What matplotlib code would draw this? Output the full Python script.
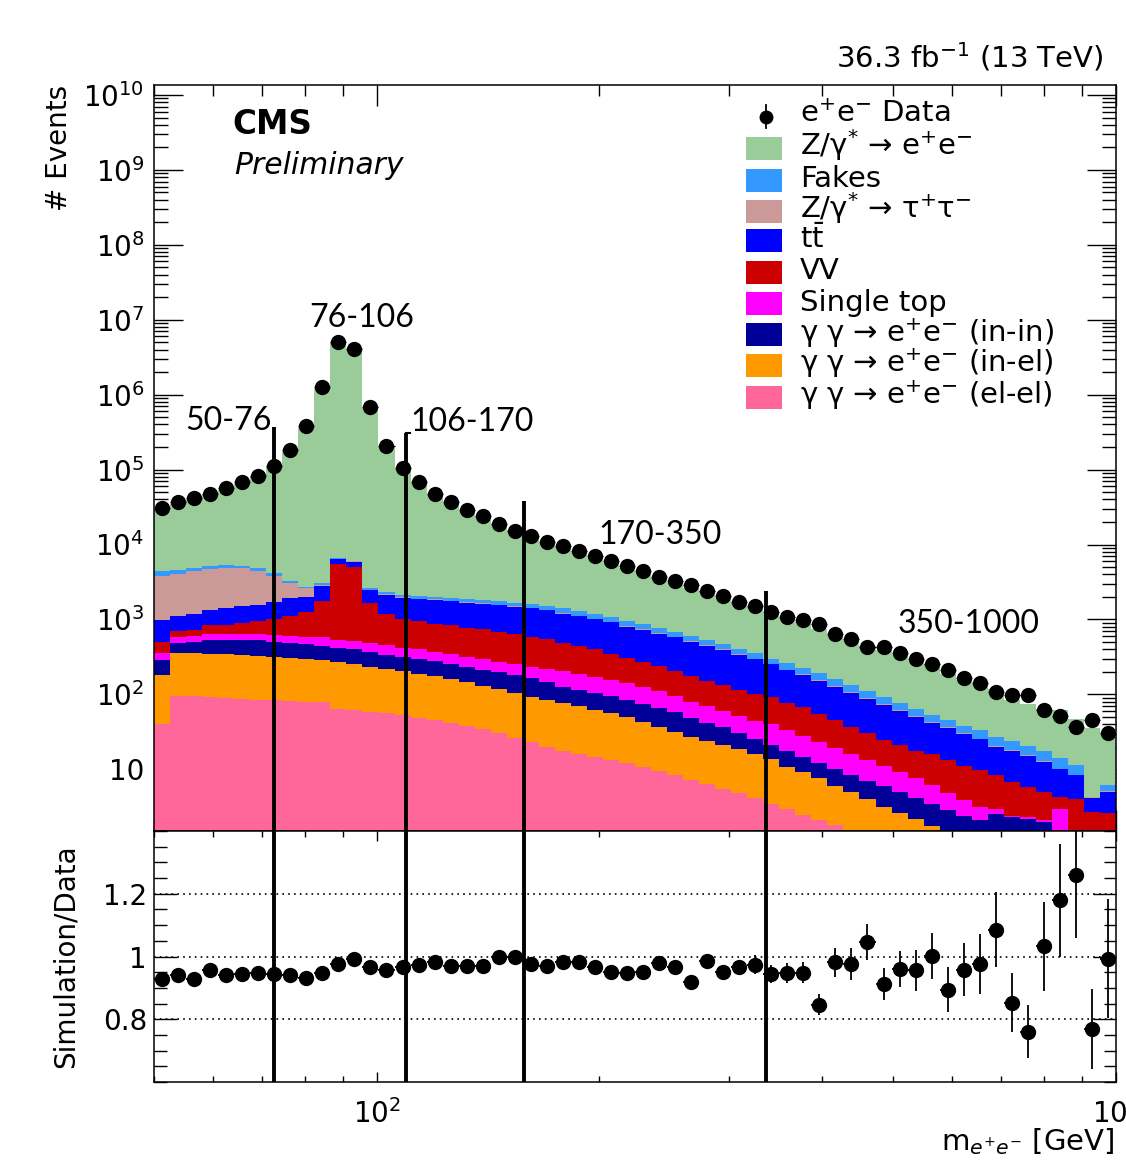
import numpy as np
import matplotlib
matplotlib.use("Agg")
import matplotlib.pyplot as plt
from matplotlib.ticker import LogLocator, FuncFormatter, MultipleLocator, FixedLocator, NullFormatter
from matplotlib.patches import Rectangle
from matplotlib.lines import Line2D

plt.rcParams['font.family'] = ['DejaVu Sans']
plt.rcParams['mathtext.fontset'] = 'dejavusans'

# ---------------- data ----------------
mass_low, mass_high, n_bins = 50, 1000, 60

data = [30700, 36600, 41800, 47800, 56900, 67800, 83200, 113000, 185000, 385000,
        1250000, 5060000, 4120000, 684000, 207000, 105000, 67800, 47800, 36900, 29200,
        23800, 19000, 15300, 13100, 10900, 9420, 8070, 6930, 5940, 5090,
        4370, 3630, 3210, 2840, 2400, 2060, 1730, 1490, 1270, 1090,
        984, 871, 632, 542, 424, 424, 352, 293, 251, 211,
        163, 140, 108, 98, 98, 61.5, 51.6, 36.8, 46.1, 30.9]

ratio = [0.929, 0.942, 0.928, 0.958, 0.942, 0.945, 0.947, 0.945, 0.942, 0.931,
         0.949, 0.977, 0.992, 0.968, 0.958, 0.965, 0.974, 0.984, 0.971, 0.971,
         0.971, 0.998, 0.997, 0.977, 0.971, 0.981, 0.984, 0.968, 0.951, 0.946,
         0.951, 0.980, 0.966, 0.920, 0.986, 0.952, 0.968, 0.974, 0.944, 0.947,
         0.949, 0.847, 0.982, 0.976, 1.046, 0.912, 0.961, 0.956, 1.002, 0.894,
         0.958, 0.977, 1.085, 0.852, 0.760, 1.032, 1.180, 1.259, 0.770, 0.993]

ratio_err = [0.008] * 25 + [0.010] * 5 + [0.012] * 3 + \
            [0.018, 0.018, 0.020, 0.020, 0.030, 0.030, 0.033, 0.035, 0.035, 0.046,
             0.050, 0.058, 0.050, 0.058, 0.065, 0.073, 0.071, 0.085, 0.095, 0.119,
             0.094, 0.085, 0.143, 0.180, 0.200, 0.127, 0.190]

# cumulative stack tops, bottom layer first
stack_elel = [40.7, 95.5, 95.5, 93.3, 89.1, 87.1, 85.1, 83.2, 81.3, 79.4,
              79.4, 63.1, 61.7, 57.5, 56.2, 52.5, 49.0, 45.7, 41.7, 38.0,
              34.7, 30.2, 26.3, 22.9, 20.0, 17.4, 15.8, 14.5, 13.2, 12.0,
              10.7, 9.55, 8.32, 7.24, 6.31, 5.50, 4.79, 4.17, 3.47, 2.95,
              2.45, 2.09, 1.78, 1.45, 1.20, 1.00, 0.79, 0.63, 0.50, 0.40,
              0.32, 0.25, 0.20, 0.16, 0.13, 0.10, 0.08, 0.06, 0.05, 0.04]
stack_inel = [182, 355, 355, 347, 347, 339, 324, 316, 302, 295,
              288, 269, 257, 234, 219, 204, 186, 174, 158, 145,
              129, 117, 105, 93.3, 83.2, 75.9, 69.2, 61.7, 56.2, 50.1,
              42.7, 37.2, 31.6, 26.9, 24.0, 20.9, 18.6, 16.2, 13.8, 10.7,
              9.12, 7.59, 6.03, 4.90, 3.98, 3.16, 2.63, 2.14, 1.74, 1.45,
              1.20, 1.00, 0.79, 0.63, 0.50, 0.40, 0.32, 0.25, 0.20, 0.16]
stack_inin = [288, 479, 501, 537, 537, 537, 525, 501, 490, 468,
              447, 417, 398, 372, 339, 316, 295, 275, 251, 234,
              214, 200, 182, 166, 148, 126, 115, 105, 95.5, 83.2,
              74.1, 66.1, 57.5, 47.9, 41.7, 36.3, 30.2, 25.1, 21.4, 17.8,
              14.8, 12.3, 10.2, 8.51, 7.08, 5.89, 5.01, 4.17, 3.47, 2.88,
              2.40, 2.09, 2.51, 2.29, 2.14, 2.00, 1.00, 0.80, 0.80, 0.60]
stack_stop = [355, 589, 603, 631, 631, 631, 631, 617, 603, 589,
              575, 537, 513, 479, 457, 417, 398, 363, 347, 316,
              295, 269, 251, 234, 219, 204, 186, 170, 155, 141,
              126, 112, 95.5, 79.4, 69.2, 60.3, 51.3, 44.7, 39.8, 33.9,
              28.2, 22.9, 19.5, 16.2, 13.2, 11.0, 9.12, 7.59, 6.17, 4.79,
              3.89, 3.16, 2.95, 2.40, 2.29, 2.09, 2.95, 1.00, 0.80, 0.65]
stack_vv = [501, 692, 724, 832, 851, 891, 955, 1000, 1100, 1260,
            1780, 5500, 5010, 1660, 1200, 1000, 955, 871, 832, 776,
            741, 676, 631, 589, 550, 490, 447, 398, 347, 302,
            269, 240, 204, 174, 151, 132, 115, 102, 93.3, 75.9,
            67.6, 55.0, 45.7, 37.2, 30.2, 24.5, 20.9, 17.8, 16.2, 13.2,
            11.2, 9.77, 8.32, 6.76, 5.75, 5.01, 4.27, 3.98, 2.69, 2.57]
stack_tt = [977, 1100, 1200, 1350, 1410, 1510, 1580, 1700, 1910, 2000,
            2820, 6460, 5890, 2450, 2140, 1950, 1860, 1820, 1740, 1660,
            1620, 1550, 1480, 1410, 1320, 1200, 1100, 1000, 912, 794,
            724, 646, 575, 501, 447, 389, 339, 295, 251, 209,
            182, 151, 126, 105, 87.1, 72.4, 60.3, 50.1, 41.7, 35.5,
            29.5, 25.1, 20.0, 17.8, 15.1, 12.6, 10.0, 8.32, 4.17, 5.01]
stack_tautau = [3800, 4070, 4370, 4680, 4900, 4790, 4470, 3800, 3090, 2630,
                2900, 6500, 5950, 2500, 2180, 1990, 1900, 1850, 1770, 1690,
                1650, 1580, 1510, 1440, 1350, 1220, 1120, 1020, 930, 810,
                738, 659, 586, 511, 456, 397, 346, 301, 256, 213,
                186, 154, 128, 107, 88.8, 73.8, 61.5, 51.1, 42.5, 36.2,
                30.1, 25.6, 20.4, 18.2, 15.4, 12.9, 10.2, 8.5, 4.25, 5.1]
stack_fakes = [4370, 4570, 4900, 5130, 5250, 5130, 4790, 4170, 3240, 2750,
               3050, 6650, 6100, 2650, 2330, 2150, 2060, 2010, 1930, 1850,
               1810, 1740, 1670, 1600, 1510, 1400, 1290, 1180, 1080, 940,
               860, 770, 690, 600, 535, 466, 405, 352, 300, 260,
               228, 190, 158, 132, 110, 91, 76, 63, 53, 45,
               38, 33, 27, 24, 20.5, 17.5, 14.0, 11.5, 4.3, 6.2]

labels = ['e$^{+}$e$^{-}$ Data', 'Z/γ$^{*}$ → e$^{+}$e$^{-}$', 'Fakes',
          'Z/γ$^{*}$ → τ$^{+}$τ$^{-}$', r't$\bar{\mathrm{t}}$', 'VV', 'Single top',
          'γ γ → e$^{+}$e$^{-}$ (in-in)', 'γ γ → e$^{+}$e$^{-}$ (in-el)',
          'γ γ → e$^{+}$e$^{-}$ (el-el)']
colors = ['#99CC99', '#3399FF', '#CC9999', '#0000FF', '#CC0000', '#FF00FF',
          '#000099', '#FF9900', '#FF6699']

region_bounds = [72.7, 109.6, 158.4, 336.7]
region_tops = [3.7e5, 3.1e5, 3.8e4, 2.4e3]
region_labels = ['50-76', '76-106', '106-170', '170-350', '350-1000']
region_label_pos = [(63, 4.5e5), (95.6, 1.06e7), (134.6, 4.3e5), (242, 1.34e4), (632, 858)]

# ---------------- derived ----------------
edges = np.geomspace(mass_low, mass_high, n_bins + 1)
centers = np.sqrt(edges[:-1] * edges[1:])
data = np.array(data, dtype=float)
ratio = np.array(ratio)
ratio_err = np.array(ratio_err)
mc_total = data * ratio
layers = [mc_total, stack_fakes, stack_tautau, stack_tt, stack_vv, stack_stop,
          stack_inin, stack_inel, stack_elel]

W, H = 1126, 1162
fig = plt.figure(figsize=(W / 100, H / 100), dpi=100)
x0, x1 = 154, 1116
ax = fig.add_axes([x0 / W, (H - 831) / H, (x1 - x0) / W, (831 - 85) / H])
rax = fig.add_axes([x0 / W, (H - 1082) / H, (x1 - x0) / W, (1082 - 831) / H], sharex=ax)

for i, (vals, c) in enumerate(zip(layers, colors)):
    ax.stairs(vals, edges, baseline=1e-3, fill=True, color=c, lw=0, zorder=2 + i * 0.01)

xerr = [centers - edges[:-1], edges[1:] - centers]
ax.errorbar(centers, data, xerr=xerr, fmt='o', color='black', ms=10, lw=1.0,
            capsize=0, zorder=10)

ax.set_xscale('log')
ax.set_yscale('log')
ax.set_xlim(mass_low, mass_high)
ax.set_ylim(1.5, 1.36e10)

ax.yaxis.set_major_locator(LogLocator(base=10, numticks=20))
ax.yaxis.set_minor_locator(LogLocator(base=10, subs=np.arange(2, 10), numticks=20))


def yfmt(v, pos):
    e = int(round(np.log10(v)))
    if e == 1:
        return '10'
    return '$10^{%d}$' % e


ax.yaxis.set_major_formatter(FuncFormatter(yfmt))
ax.yaxis.set_minor_formatter(NullFormatter())
ax.tick_params(axis='both', which='both', direction='in', top=True, right=True,
               labelbottom=False, labelsize=20, width=1.0)
ax.tick_params(axis='y', which='major', length=21, pad=7)
ax.tick_params(axis='y', which='minor', length=10)
ax.tick_params(axis='x', which='major', length=15)
ax.tick_params(axis='x', which='minor', length=7.7)
for s in ax.spines.values():
    s.set_linewidth(1.1)

# region lines and labels
for xb, yt in zip(region_bounds, region_tops):
    ax.plot([xb, xb], [1e-3, yt], color='black', lw=2.8, zorder=12, solid_capstyle='butt')
    rax.axvline(xb, color='black', lw=2.8, zorder=12)
ax.plot([region_bounds[1], region_bounds[1] * 1.012], [region_tops[1], region_tops[1]],
        color='black', lw=1.5, zorder=12)
for lab, (xl, yl) in zip(region_labels, region_label_pos):
    ax.text(xl, yl, lab, ha='center', va='center', fontsize=23,
            family=['Lato', 'DejaVu Sans'], zorder=13)

# ratio panel
rax.errorbar(centers, ratio, yerr=ratio_err, xerr=xerr, fmt='o', color='black', ms=10,
             lw=1.3, capsize=0, zorder=10)
for v in (0.8, 1.0, 1.2):
    rax.axhline(v, color='black', lw=1.2, ls=(0, (1, 2.5)), zorder=1)
rax.set_ylim(0.6, 1.4)
rax.set_xlim(mass_low, mass_high)
rax.yaxis.set_major_locator(FixedLocator([0.8, 1.0, 1.2]))
rax.yaxis.set_major_formatter(FuncFormatter(lambda v, p: '%g' % v))
rax.yaxis.set_minor_locator(MultipleLocator(0.05))
rax.xaxis.set_major_locator(LogLocator(base=10, numticks=10))
rax.xaxis.set_minor_locator(LogLocator(base=10, subs=np.arange(2, 10), numticks=10))
rax.xaxis.set_major_formatter(FuncFormatter(lambda v, p: '$10^{%d}$' % int(round(np.log10(v)))))
rax.xaxis.set_minor_formatter(NullFormatter())
rax.tick_params(axis='both', which='both', direction='in', top=True, right=True,
                labelsize=20, width=1.0)
rax.tick_params(axis='y', which='major', length=16.5, pad=5)
rax.tick_params(axis='y', which='minor', length=9)
rax.tick_params(axis='x', which='major', length=7.2, pad=12)
rax.tick_params(axis='x', which='minor', length=4.3)
for s in rax.spines.values():
    s.set_linewidth(1.1)

# axis titles
fig.text(59 / W, 1 - 85 / H, '# Events', rotation=90, ha='center', va='top', fontsize=20)
fig.text(66 / W, 1 - 956 / H, 'Simulation/Data', rotation=90, ha='center', va='center',
         fontsize=20)
fig.text(1114 / W, 1 - 1150 / H, 'm$_{e^{+}e^{-}}$ [GeV]', ha='right', va='baseline',
         fontsize=21)

# header texts
fig.text(1103 / W, 1 - 57 / H, '36.3 fb$^{-1}$ (13 TeV)', ha='right', va='center', fontsize=21)
fig.text(232 / W, 1 - 125 / H, 'CMS', ha='left', va='center', fontsize=23.5,
         fontweight='bold')
fig.text(234 / W, 1 - 166 / H, 'Preliminary', ha='left', va='center', fontsize=21.5,
         fontstyle='italic')

# legend (manual, ROOT style)
leg_y = [115, 148, 180, 211, 241, 272, 304, 335, 365, 397]
for k, (yc, lab) in enumerate(zip(leg_y, labels)):
    if k == 0:
        fig.lines.append(Line2D([766 / W], [1 - 117 / H], marker='o', ms=9, color='black',
                                transform=fig.transFigure))
        fig.lines.append(Line2D([766 / W, 766 / W], [1 - 105 / H, 1 - 128 / H], lw=1.3,
                                color='black', transform=fig.transFigure))
    else:
        fig.patches.append(Rectangle((746 / W, 1 - (yc + 11.5) / H), 36 / W, 23 / H,
                                     facecolor=colors[k - 1], edgecolor='none',
                                     transform=fig.transFigure))
    fig.text(800 / W, 1 - (yc + 7) / H, lab, ha='left', va='baseline', fontsize=21)

fig.savefig('out.png', dpi=100)
